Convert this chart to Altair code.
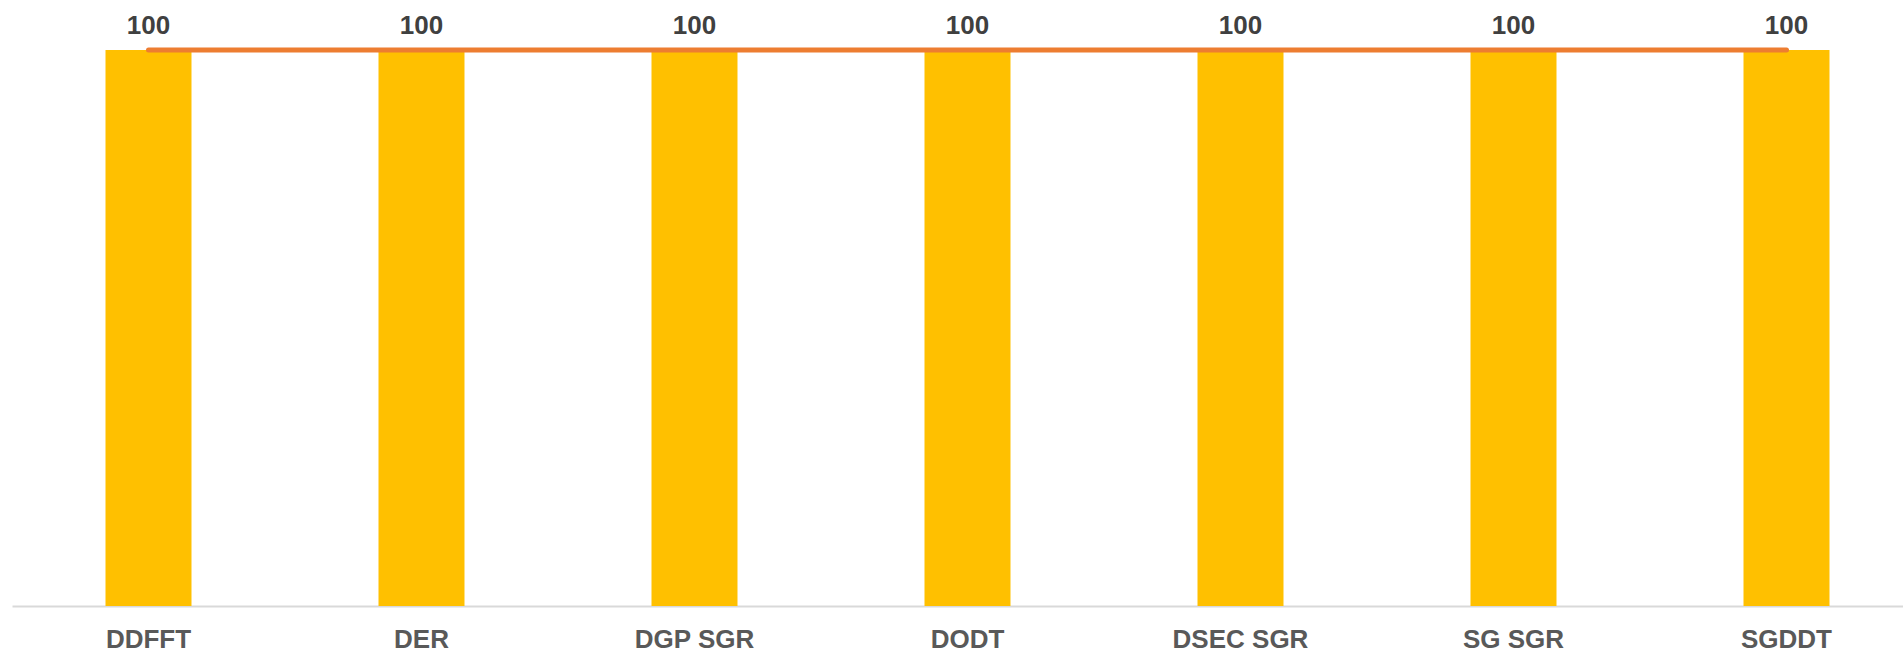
import altair as alt
import pandas as pd

# Categories and series values
categories = ["DDFFT", "DER", "DGP SGR", "DODT", "DSEC SGR", "SG SGR", "SGDDT"]
bar_values = [100, 100, 100, 100, 100, 100, 100]
target_values = [100, 100, 100, 100, 100, 100, 100]

df = pd.DataFrame({"category": categories, "value": bar_values, "target": target_values})

FONT = "Liberation Sans"

x = alt.X(
    "category:N",
    sort=categories,
    title=None,
    scale=alt.Scale(range=[0, 1911], paddingInner=0.685, paddingOuter=0.3425),
    axis=alt.Axis(
        labelAngle=0,
        labelFont=FONT,
        labelFontSize=26,
        labelFontWeight="bold",
        labelColor="#595959",
        labelBaseline="alphabetic",
        labelPadding=41,
        ticks=False,
        tickSize=0,
        domainColor="#D9D9D9",
        domainWidth=2,
        grid=False,
    ),
)
y_scale = alt.Scale(domain=[0, 100], nice=False, zero=True)

bars = alt.Chart(df).mark_bar(color="#FFC000").encode(
    x=x,
    y=alt.Y("value:Q", scale=y_scale, axis=None),
)

line = alt.Chart(df).mark_line(color="#ED7D31", strokeWidth=5, strokeCap="round").encode(
    x=x,
    y=alt.Y("target:Q", scale=y_scale, axis=None),
)

labels = alt.Chart(df).mark_text(
    dy=-16,
    baseline="alphabetic",
    align="center",
    font=FONT,
    fontSize=26,
    fontWeight="bold",
    color="#404040",
).encode(
    x=x,
    y=alt.Y("value:Q", scale=y_scale, axis=None),
    text=alt.Text("value:Q"),
)

chart = alt.layer(bars, line, labels).properties(
    width=1891,
    height=556,
    background="white",
    padding={"left": 12, "top": 50, "right": 0, "bottom": 43},
    autosize=alt.AutoSizeParams(type="none"),
).configure_view(stroke=None)

chart.save("out.html", embed_options={"renderer": "svg", "actions": False})
